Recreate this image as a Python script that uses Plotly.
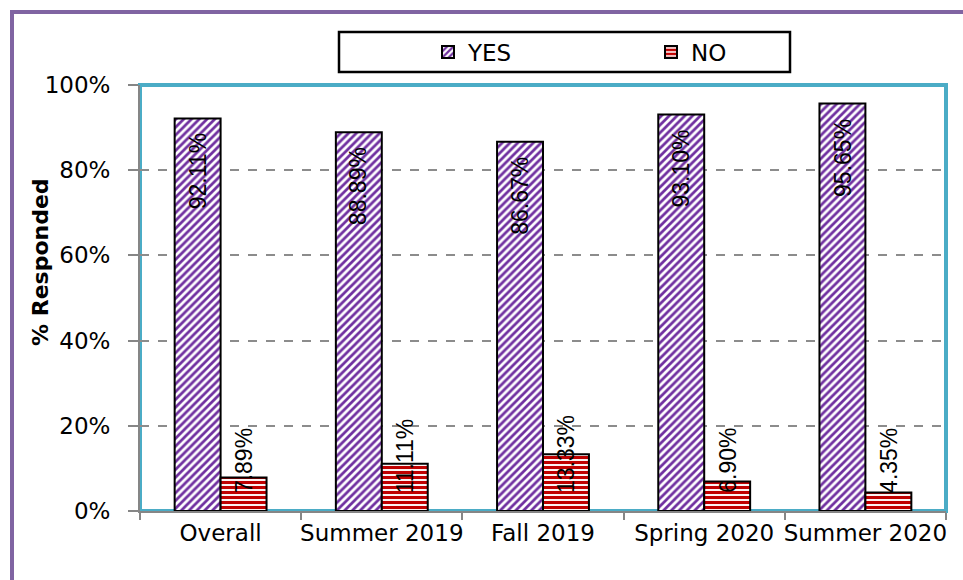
import plotly.graph_objects as go

categories = ["Overall", "Summer 2019", "Fall 2019", "Spring 2020", "Summer 2020"]
yes_values = [92.11, 88.89, 86.67, 93.10, 95.65]
no_values = [7.89, 11.11, 13.33, 6.90, 4.35]
yes_labels = ["92.11%", "88.89%", "86.67%", "93.10%", "95.65%"]
no_labels = ["7.89%", "11.11%", "13.33%", "6.90%", "4.35%"]
y_tickvals = [0, 20, 40, 60, 80, 100]
y_ticktext = ["0%", "20%", "40%", "60%", "80%", "100%"]

W, H = 963, 580
ML, MR, MT, MB = 140, 17, 85, 69
PW = W - ML - MR
PH = H - MT - MB


def px_x(p):
    return (p - ML) / PW


def px_y(p):
    return (H - MB - p) / PH


fig = go.Figure()
fig.add_trace(go.Bar(
    name="YES", x=categories, y=yes_values,
    marker=dict(color="white", line=dict(color="black", width=2),
                pattern=dict(shape="/", fgcolor="#7030A0", bgcolor="white",
                             size=5.5, solidity=0.5, fgopacity=1)),
))
fig.add_trace(go.Bar(
    name="NO", x=categories, y=no_values,
    marker=dict(color="white", line=dict(color="black", width=2),
                pattern=dict(shape="-", fgcolor="#C00000", bgcolor="white",
                             size=5, solidity=0.62, fgopacity=1)),
))

bar_half = 23
label_font = dict(family="Liberation Sans, Arial", size=23, color="black")
for c, v, t in zip(categories, yes_values, yes_labels):
    fig.add_annotation(x=c, y=v, text=t, textangle=-90, showarrow=False,
                       xshift=-bar_half, xanchor="center", yanchor="top", yshift=-13,
                       font=label_font)
for c, v, t in zip(categories, no_values, no_labels):
    fig.add_annotation(x=c, y=0, text=t, textangle=-90, showarrow=False,
                       xshift=bar_half, xanchor="center", yanchor="bottom", yshift=16,
                       font=label_font)

# Y axis title
fig.add_annotation(xref="paper", yref="paper", x=px_x(40), y=px_y(262),
                   xanchor="center", yanchor="middle",
                   text="<b>% Responded</b>", textangle=-90, showarrow=False,
                   font=dict(family="DejaVu Sans", size=22, color="black"))

# Outer purple border
fig.add_shape(type="rect", xref="paper", yref="paper",
              x0=px_x(12), x1=px_x(1000), y0=px_y(620), y1=px_y(12),
              line=dict(color="#8064A2", width=4), layer="below")
# Cyan plot-area frame
fig.add_shape(type="rect", xref="paper", yref="paper",
              x0=0, x1=1, y0=0, y1=1,
              line=dict(color="#4BACC6", width=4), layer="below")
fig.add_shape(type="line", xref="paper", yref="paper",
              x0=0, x1=1, y0=1, y1=1,
              line=dict(color="#4BACC6", width=4), layer="above")
# Legend box
fig.add_shape(type="rect", xref="paper", yref="paper",
              x0=px_x(339), x1=px_x(790), y0=px_y(72), y1=px_y(32),
              line=dict(color="black", width=2.5), fillcolor="white", layer="below")

fig.update_layout(
    width=W, height=H,
    margin=dict(l=ML, r=MR, t=MT, b=MB, autoexpand=False),
    paper_bgcolor="white", plot_bgcolor="white",
    barmode="group", bargap=0.43, bargroupgap=0,
    font=dict(family="DejaVu Sans", size=23, color="black"),
    showlegend=True,
    legend=dict(orientation="h", x=px_x(428), xanchor="left",
                y=px_y(52), yanchor="middle", bgcolor="rgba(0,0,0,0)",
                borderwidth=0, entrywidth=178, entrywidthmode="pixels",
                font=dict(family="DejaVu Sans", size=23, color="black")),
    xaxis=dict(showline=True, linecolor="#868686", linewidth=2,
               ticks="outside", tickson="boundaries", ticklen=7,
               tickcolor="#868686", tickwidth=2, showgrid=False,
               tickangle=0, automargin=False,
               tickfont=dict(family="DejaVu Sans", size=23, color="black")),
    yaxis=dict(range=[0, 100], tickvals=y_tickvals, ticktext=y_ticktext,
               showline=True, linecolor="#868686", linewidth=2,
               ticks="outside", ticklen=10, tickcolor="#868686", tickwidth=2,
               showgrid=True, gridcolor="#8C8C8C", gridwidth=1.5, griddash="dash",
               zeroline=False, ticklabelstandoff=13, automargin=False,
               tickfont=dict(family="DejaVu Sans", size=23, color="black")),
)

fig.write_html("out.html", config={"displayModeBar": False},
               post_script="document.body.style.margin='0';document.body.style.overflow='hidden';")
